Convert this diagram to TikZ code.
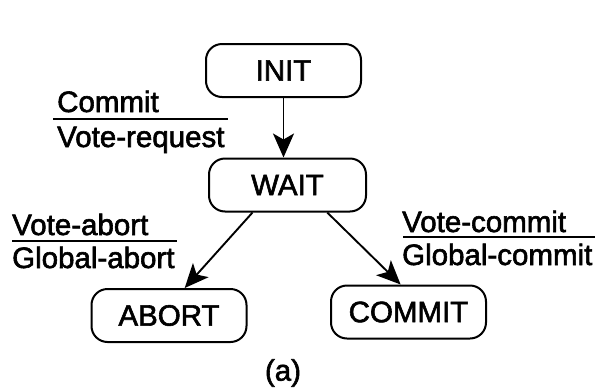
\documentclass[tikz,border=0pt]{standalone}
\usepackage{fontspec}
\setmainfont{Liberation Sans}
\newfontfamily\inkfont{Liberation Sans}[FakeBold=2]
\usetikzlibrary{arrows.meta,calc}
\begin{document}
\begin{tikzpicture}[x=1pt,y=-1pt,
  txt/.style={font=\inkfont\fontsize{29.5}{34}\selectfont},
  state/.style={draw, line width=2pt, rounded corners=16pt,
    minimum width=155pt, minimum height=53pt, inner sep=0pt, txt},
  lbl/.style={anchor=base west, inner sep=0pt, txt},
  trans/.style={line width=1.9pt, -{Stealth[length=24pt,width=21pt,inset=6pt]}},
  rule/.style={line width=1.9pt}]
\useasboundingbox (0,0) rectangle (595,389);

% states
\node[state] (init)   at (283.5,70.5) {INIT};
\node[state, minimum width=157pt] (wait) at (287.5,185) {WAIT};
\node[state] (abort)  at (169,315.5) {ABORT};
\node[state] (commit) at (408.5,312) {COMMIT};

% transitions
\draw[trans] (init.south) -- (init.south |- wait.north);
\draw[trans] ($(wait.south west)!0.28!(wait.south east)$) -- ($(abort.north west)!0.6!(abort.north east)$);
\draw[trans] ($(wait.south west)!0.75!(wait.south east)$) -- ($(commit.north west)!0.45!(commit.north east)$);

% transition labels: event over action
\node[lbl] (l1a) at (57,112) {Commit};
\coordinate (r1a) at (53,119);
\coordinate (r1b) at (228,119);
\draw[rule] (r1a) -- (r1b);
\node[lbl] (l1b) at (57,147) {Vote-request};

\node[lbl] (l2a) at (12,235) {Vote-abort};
\coordinate (r2a) at (12,241);
\coordinate (r2b) at (177,241);
\draw[rule] (r2a) -- (r2b);
\node[lbl] (l2b) at (12,268) {Global-abort};

\node[lbl] (l3a) at (402,232) {Vote-commit};
\coordinate (r3a) at (403,237);
\coordinate (r3b) at (595,237);
\draw[rule] (r3a) -- (r3b);
\node[lbl] (l3b) at (402,265) {Global-commit};

% caption
\node[txt, inner sep=0pt] (cap) at (283,373) {(a)};
\end{tikzpicture}
\end{document}
